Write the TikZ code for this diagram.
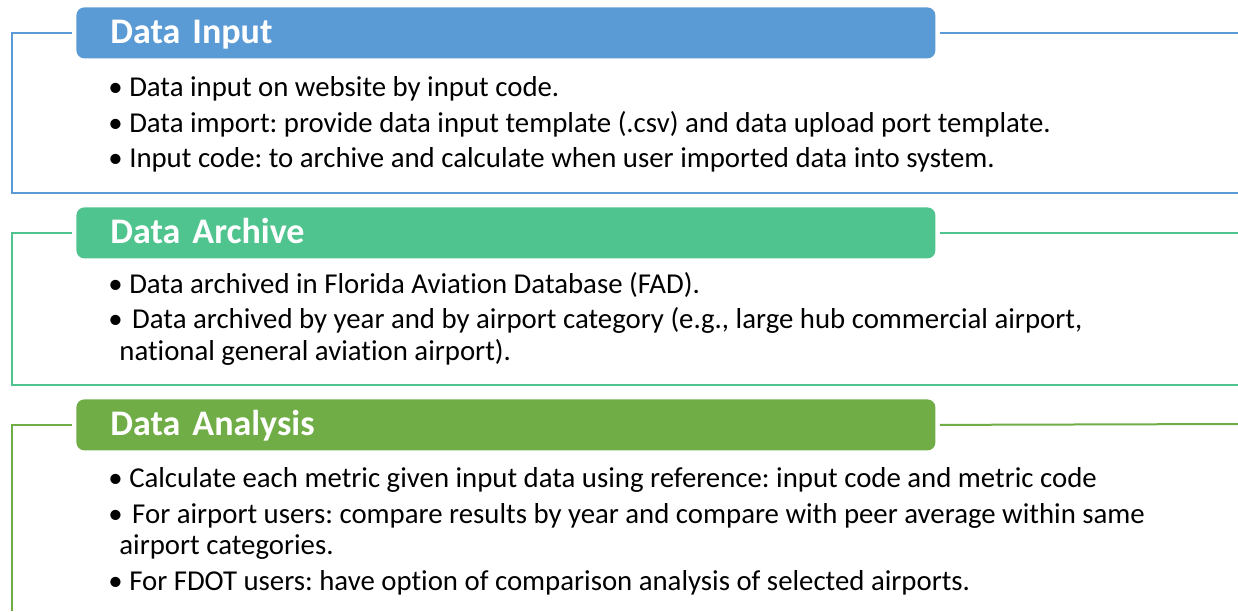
\documentclass[tikz,border=0pt]{standalone}
\usepackage{fontspec}
\setmainfont{Carlito}[Ligatures=NoCommon]
\usetikzlibrary{positioning}
\frenchspacing

\definecolor{inputblue}{RGB}{91,155,213}
\definecolor{archivegreen}{RGB}{80,196,142}
\definecolor{analysisgreen}{RGB}{112,173,71}

\tikzset{
	header/.style={fill=#1, text=white, rounded corners=4pt, anchor=north west,
		inner xsep=17pt, inner ysep=0pt, text width=395.5pt, align=left,
		text height=18pt, text depth=7.5pt,
		font=\fontsize{18}{20}\selectfont\bfseries},
	frame/.style={draw=#1, line width=1pt},
	item/.style={anchor=base west, inner sep=0pt,
		font=\fontsize{14.4}{17}\selectfont}
}

\begin{document}
\begin{tikzpicture}[x=0.5pt,y=-0.5pt]
	\useasboundingbox (0,0) rectangle (1238,611);
	
	% Data input section
	\node[header=inputblue] (input) at (76,7) {Data Input};
	\coordinate (inputL) at (12,193);
	\coordinate (inputR) at (1238,193);
	\draw[frame=inputblue] ([xshift=-2pt]input.west) -- (input.west -| inputL) -- (inputL) -- (inputR);
	\draw[frame=inputblue] ([xshift=2pt]input.east) -- (input.east -| inputR);
	\node[item] (in1) at (108,96) {• Data input on website by input code.};
	\node[item] (in2) at (108,132) {• Data import: provide data input template (.csv) and data upload port template.};
	\node[item] (in3) at (108,167) {• Input code: to archive and calculate when user imported data into system.};
	
	% Data archive section
	\node[header=archivegreen] (archive) at (76,207) {Data Archive};
	\coordinate (archiveL) at (12,385);
	\coordinate (archiveR) at (1238,385);
	\draw[frame=archivegreen] ([xshift=-2pt]archive.west) -- (archive.west -| archiveL) -- (archiveL) -- (archiveR);
	\draw[frame=archivegreen] ([xshift=2pt]archive.east) -- (archive.east -| archiveR);
	\node[item] (ar1) at (108,293) {• Data archived in Florida Aviation Database (FAD).};
	\node[item] (ar2) at (108,328) {•\hspace{1.5pt} Data archived by year and by airport category (e.g., large hub commercial airport,};
	\node[item] (ar2b) at (119,360) {national general aviation airport).};
	
	% Data analysis section (open at the bottom)
	\node[header=analysisgreen] (analysis) at (76,399) {Data Analysis};
	\coordinate (analysisL) at (12,611);
	\coordinate (analysisR) at (1238,424);
	\draw[frame=analysisgreen] ([xshift=-2pt]analysis.west) -- (analysis.west -| analysisL) -- (analysisL);
	\draw[frame=analysisgreen] ([xshift=2pt]analysis.east) -- (analysisR);
	\node[item] (an1) at (108,487) {• Calculate each metric given input data using reference: input code and metric code};
	\node[item] (an2) at (108,523) {•\hspace{1.5pt} For airport users: compare results by year and compare with peer average within same};
	\node[item] (an2b) at (119,554) {airport categories.};
	\node[item] (an3) at (108,590) {• For FDOT users: have option of comparison analysis of selected airports.};
\end{tikzpicture}
\end{document}
